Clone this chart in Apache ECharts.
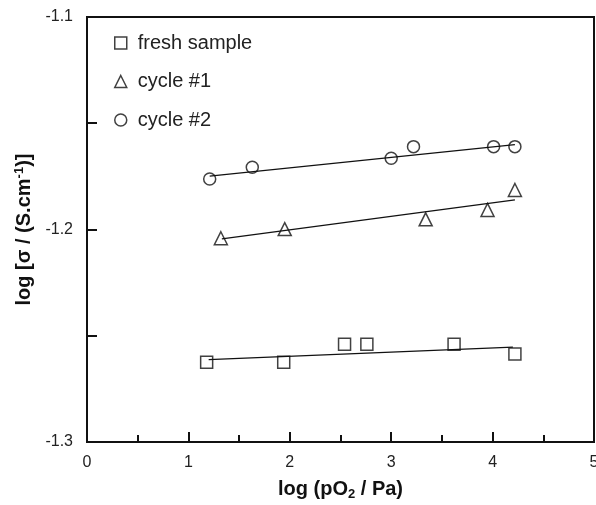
<!DOCTYPE html>
<html>
<head>
<meta charset="utf-8">
<script src="https://cdn.jsdelivr.net/npm/echarts@6/dist/echarts.min.js"></script>
<style>
    html, body { margin: 0; padding: 0; background: #fff; }
    #main { width: 596px; height: 505px; }
</style>
</head>
<body>
<div id="main"></div>
<script>
    // log(pO2/Pa) on x, log(sigma) on y
    var freshX = [1.18, 1.94, 2.54, 2.76, 3.62, 4.22];
    var freshY = [-1.2625, -1.2625, -1.2540, -1.2540, -1.2540, -1.2586];
    var cycle1X = [1.32, 1.95, 3.34, 3.95, 4.22];
    var cycle1Y = [-1.2041, -1.1998, -1.1952, -1.1908, -1.1814];
    var cycle2X = [1.21, 1.63, 3.00, 3.22, 4.01, 4.22];
    var cycle2Y = [-1.1762, -1.1707, -1.1665, -1.1610, -1.1610, -1.1610];

    // linear fits (end points)
    var freshFitX = [1.20, 4.20];
    var freshFitY = [-1.2612, -1.2554];
    var cycle1FitX = [1.33, 4.22];
    var cycle1FitY = [-1.2044, -1.1861];
    var cycle2FitX = [1.21, 4.22];
    var cycle2FitY = [-1.1749, -1.1601];

    var names = ['fresh sample', 'cycle #1', 'cycle #2'];

    function pairs(xs, ys) {
        var out = [];
        for (var i = 0; i < xs.length; i++) {
            out.push([xs[i], ys[i]]);
        }
        return out;
    }

    var ink = '#111';
    var font = 'Liberation Sans, Arial, sans-serif';

    function markSeries(name, symbol, size, xs, ys) {
        return {
            name: name,
            type: 'scatter',
            symbol: symbol,
            symbolSize: size,
            z: 3,
            itemStyle: {
                color: 'transparent',
                borderColor: ink,
                borderWidth: 1.5
            },
            data: pairs(xs, ys)
        };
    }

    function fitSeries(xs, ys) {
        return {
            type: 'line',
            symbol: 'none',
            silent: true,
            z: 2,
            lineStyle: { color: ink, width: 1.3 },
            data: pairs(xs, ys)
        };
    }

    var myChart = echarts.init(document.getElementById('main'));
    myChart.setOption({
        animation: false,
        textStyle: { fontFamily: font },
        grid: {
            left: 87,
            right: 2,
            top: 17,
            bottom: 63,
            containLabel: false,
            outerBoundsMode: 'none',
            show: true,
            borderColor: ink,
            borderWidth: 2
        },
        legend: {
            orient: 'vertical',
            left: 109,
            top: 28,
            itemWidth: 12,
            itemHeight: 12,
            itemGap: 18.5,
            data: names,
            itemStyle: { borderColor: ink, borderWidth: 1.5, color: 'transparent' },
            textStyle: { fontSize: 20, color: '#222', fontFamily: font, lineHeight: 20, padding: [0, 0, 0, 6] }
        },
        xAxis: {
            type: 'value',
            min: 0,
            max: 5,
            interval: 1,
            name: '{b|log (pO}{s|2}{b| / Pa)}',
            nameLocation: 'middle',
            nameGap: 35,
            nameTextStyle: {
                rich: {
                    b: { fontSize: 20, fontWeight: 'bold', color: '#111', fontFamily: font, lineHeight: 24 },
                    s: { fontSize: 13, fontWeight: 'bold', color: '#111', fontFamily: font, lineHeight: 24, verticalAlign: 'bottom' }
                }
            },
            axisLine: { lineStyle: { color: ink, width: 2 } },
            axisTick: { inside: true, length: 10, lineStyle: { color: ink, width: 2 } },
            minorTick: { show: true, splitNumber: 2, length: 7, lineStyle: { color: ink, width: 2 } },
            splitLine: { show: false },
            axisLabel: { margin: 13, fontSize: 16, color: '#222', fontFamily: font }
        },
        yAxis: {
            type: 'value',
            min: -1.3,
            max: -1.1,
            interval: 0.05,
            name: '{b|log [σ / (S.cm}{p|-1}{b|)]}',
            nameLocation: 'middle',
            nameRotate: 90,
            nameGap: 49,
            nameTextStyle: {
                rich: {
                    b: { fontSize: 20, fontWeight: 'bold', color: '#111', fontFamily: font, lineHeight: 24 },
                    p: { fontSize: 13, fontWeight: 'bold', color: '#111', fontFamily: font, lineHeight: 24, verticalAlign: 'top' }
                }
            },
            axisLine: { lineStyle: { color: ink, width: 2 } },
            axisTick: { inside: true, length: 10, lineStyle: { color: ink, width: 2 } },
            splitLine: { show: false },
            axisLabel: {
                margin: 14,
                fontSize: 16,
                color: '#222',
                fontFamily: font,
                formatter: function (v) {
                    var t = v * 10;
                    if (Math.abs(Math.round(t) - t) > 1e-6) {
                        return '';
                    }
                    return v.toFixed(1);
                }
            }
        },
        series: [
            markSeries(names[0], 'rect', 12, freshX, freshY),
            markSeries(names[1], 'triangle', 13, cycle1X, cycle1Y),
            markSeries(names[2], 'circle', 12, cycle2X, cycle2Y),
            fitSeries(freshFitX, freshFitY),
            fitSeries(cycle1FitX, cycle1FitY),
            fitSeries(cycle2FitX, cycle2FitY)
        ]
    });
</script>
</body>
</html>
